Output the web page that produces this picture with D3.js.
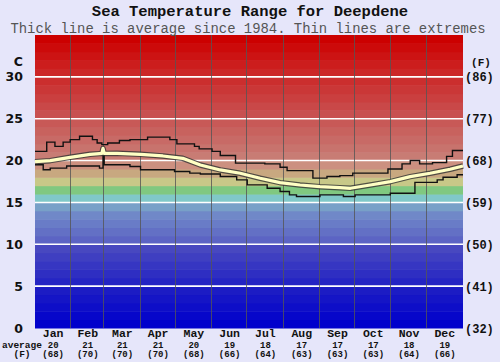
<!DOCTYPE html>
<html><head><meta charset="utf-8">
<script src="https://cdn.jsdelivr.net/npm/d3@7"></script>
<style>
html,body{margin:0;padding:0;background:#e6e6fa;}
svg{display:block;}
</style></head>
<body>
<svg id="chart" width="500" height="362"></svg>
<script>
// ---------- data ----------
const months = ["Jan","Feb","Mar","Apr","May","Jun","Jul","Aug","Sep","Oct","Nov","Dec"];
const monthDays = [31,28,31,30,31,30,31,31,30,31,30,31];
const monthAvgC = [20,21,21,21,20,19,18,17,17,17,18,19];
const monthAvgF = [68,70,70,70,68,66,64,63,63,63,64,66];
const celsiusTicks = [0,5,10,15,20,25,30];
const fahrenheitTicks = [32,41,50,59,68,77,86];

// average (thick line): day of year, temperature C
const avgDays  = [0,13,30,47,55,57,58,59,70,90,109,126,141,158,175,192,209,226,243,260,269,286,303,320,337,354,365];
const avgTemps = [19.87,19.99,20.39,20.75,20.83,20.85,21.45,20.85,20.87,20.75,20.55,20.27,19.47,18.88,18.48,17.89,17.36,17.08,16.88,16.76,16.69,17.08,17.48,18.08,18.48,18.96,19.35];

// maximum (thin step line): start day of each step, temperature C
const maxDays  = [0,10,17,24,30,38,49,53,57,62,72,81,96,115,121,136,140,151,158,171,196,209,215,237,249,260,271,301,313,320,328,339,351,356,365];
const maxTemps = [21.1,22.2,21.7,22.2,22.5,22.9,22.5,22.1,21.9,22.1,22.4,22.5,22.8,22.5,22.0,21.7,21.4,21.1,20.6,19.7,19.6,19.2,18.8,17.9,18.1,18.2,18.5,19.0,19.6,20.0,19.6,19.75,20.5,21.2,21.2];

// minimum (thin step line)
const minDays  = [0,7,13,27,55,58,59,81,90,119,132,141,158,172,181,198,209,217,223,243,258,263,273,303,324,343,348,360,365];
const minTemps = [19.5,18.9,19.1,19.35,19.1,20.9,19.5,19.3,18.9,18.7,18.5,18.4,18.1,17.7,17.1,16.7,16.3,15.9,15.7,15.9,15.9,15.7,15.9,16.1,17.4,17.7,18.0,18.3,18.3];

// background colour ramp by temperature
const rampTemps  = [0,4,9,10,13,14,15,16,17,18,19,20,25,30,34];
const rampColors = ["#0000cc","#1c1cc4","#4848c0","#5c64c4","#7088c8","#78a0c8","#80c8c8","#80c880","#c8c888","#c8a880","#cc9080","#c87c74","#c85050","#cc2626","#cc0000"];

// ---------- chart ----------
const svg = d3.select("#chart");
const X0 = 35, X1 = 463, Y0 = 328, Y1 = 35;
const x = d3.scaleLinear().domain([0,365]).range([X0,X1]);
const y = d3.scaleLinear().domain([0,35]).range([Y0,Y1]);
const color = d3.scaleLinear().domain(rampTemps).range(rampColors).interpolate(d3.interpolateRgb).clamp(true);

// bands
const bands = d3.range(0,35);
svg.append("g").selectAll("rect").data(bands).join("rect")
  .attr("x", X0).attr("width", X1-X0)
  .attr("y", d => y(d+1)).attr("height", d => y(d)-y(d+1)+0.5)
  .attr("fill", d => color(d));

// horizontal white grid
svg.append("g").selectAll("line").data(celsiusTicks.filter(d=>d>0)).join("line")
  .attr("x1", X0).attr("x2", X1)
  .attr("y1", d => y(d)).attr("y2", d => y(d))
  .attr("stroke", "#ffffff").attr("stroke-width", 1.6);

// month boundaries
const cum = d3.cumsum(monthDays);
const bounds = Array.from(cum).slice(0,11);
svg.append("g").selectAll("line").data(bounds).join("line")
  .attr("x1", d => Math.round(x(d))-0.5).attr("x2", d => Math.round(x(d))-0.5)
  .attr("y1", Y1).attr("y2", Y0)
  .attr("stroke", "#555").attr("stroke-opacity", 0.8).attr("stroke-width", 1);

// lines
const stepLine = d3.line().x(d => x(d[0])).y(d => y(d[1])).curve(d3.curveStepAfter);
const maxPts = maxDays.map((d,i) => [d, maxTemps[i]]);
const minPts = minDays.map((d,i) => [d, minTemps[i]]);
[maxPts, minPts].forEach(p => {
  svg.append("path").attr("d", stepLine(p)).attr("fill","none")
    .attr("stroke","#111").attr("stroke-width",1.4);
});
const avgLine = d3.line().x(d => x(d[0])).y(d => y(d[1]));
const avgPts = avgDays.map((d,i) => [d, avgTemps[i]]);
svg.append("path").attr("d", avgLine(avgPts)).attr("fill","none")
  .attr("stroke","#333").attr("stroke-opacity",0.8).attr("stroke-width",5.5).attr("stroke-linejoin","round");
svg.append("path").attr("d", avgLine(avgPts)).attr("fill","none")
  .attr("stroke","#ffffc4").attr("stroke-width",3.2).attr("stroke-linejoin","round");

// titles
svg.append("text").attr("x",250).attr("y",15.5).attr("text-anchor","middle")
  .attr("font-family","Liberation Mono, DejaVu Sans Mono, monospace").attr("font-weight","bold")
  .attr("font-size",15.5).attr("fill","#111").text("Sea Temperature Range for Deepdene");
svg.append("text").attr("x",248).attr("y",32.5).attr("text-anchor","middle")
  .attr("font-family","Liberation Mono, DejaVu Sans Mono, monospace")
  .attr("font-size",13.9).attr("fill","#555").text("Thick line is average since 1984. Thin lines are extremes");

// left axis (C)
const sans = "DejaVu Sans, Verdana, sans-serif";
const mono = "Liberation Mono, Courier New, monospace";
svg.append("g").selectAll("text").data(celsiusTicks).join("text")
  .attr("x",23).attr("y", d => y(d)+4.5).attr("text-anchor","end")
  .attr("font-family",sans).attr("font-weight","bold").attr("font-size",12.5).attr("fill","#111")
  .text(d => d);
svg.append("text").attr("x",23).attr("y",66).attr("text-anchor","end")
  .attr("font-family",sans).attr("font-weight","bold").attr("font-size",12.5).attr("fill","#111").text("C");

// right axis (F)
svg.append("g").selectAll("text").data(celsiusTicks).join("text")
  .attr("x",465).attr("y", d => y(d)+4.5).attr("text-anchor","start")
  .attr("font-family",mono).attr("font-weight","bold").attr("font-size",12).attr("fill","#111")
  .text((d,i) => "(" + fahrenheitTicks[i] + ")");
svg.append("text").attr("x",481).attr("y",66).attr("text-anchor","middle")
  .attr("font-family",mono).attr("font-weight","bold").attr("font-size",11).attr("fill","#111").text("(F)");

// bottom month labels
const mids = monthDays.map((d,i) => (cum[i]-d) + d/2);
const bottom = svg.append("g").attr("font-family",mono).attr("font-weight","bold").attr("fill","#111").attr("text-anchor","middle");
bottom.selectAll("text.m").data(months).join("text").attr("class","m")
  .attr("x",(d,i)=>x(mids[i])).attr("y",336.5).attr("font-size",11.5).text(d=>d);
bottom.selectAll("text.c").data(monthAvgC).join("text").attr("class","c")
  .attr("x",(d,i)=>x(mids[i])).attr("y",347.5).attr("font-size",9).text(d=>d);
bottom.selectAll("text.f").data(monthAvgF).join("text").attr("class","f")
  .attr("x",(d,i)=>x(mids[i])).attr("y",357).attr("font-size",9).text(d=>"("+d+")");
svg.append("text").attr("x",2).attr("y",347.5).attr("font-family",mono).attr("font-weight","bold")
  .attr("font-size",9.5).attr("fill","#111").text("average");
svg.append("text").attr("x",22).attr("y",357).attr("text-anchor","middle").attr("font-family",mono).attr("font-weight","bold")
  .attr("font-size",9.5).attr("fill","#111").text("(F)");
</script>
</body></html>
